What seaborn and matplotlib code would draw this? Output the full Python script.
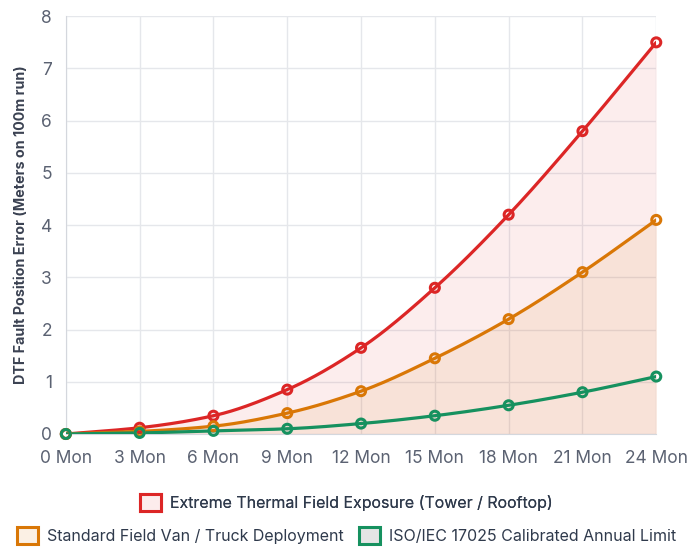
import numpy as np
import pandas as pd
import matplotlib
matplotlib.use('Agg')
import matplotlib.pyplot as plt
import seaborn as sns
from matplotlib.patches import Patch

# data
months = [0, 3, 6, 9, 12, 15, 18, 21, 24]
month_labels = [f'{m} Mon' for m in months]
extreme = [0.0, 0.12, 0.35, 0.85, 1.65, 2.8, 4.2, 5.8, 7.5]
standard = [0.0, 0.05, 0.15, 0.4, 0.82, 1.45, 2.2, 3.1, 4.1]
iso_limit = [0.0, 0.02, 0.06, 0.1, 0.2, 0.35, 0.55, 0.8, 1.1]

names = ['Extreme Thermal Field Exposure (Tower / Rooftop)',
         'Standard Field Van / Truck Deployment',
         'ISO/IEC 17025 Calibrated Annual Limit']
colors = ['#dc2626', '#d97706', '#16915f']

df = pd.DataFrame({'month': months * 3,
                   'value': extreme + standard + iso_limit,
                   'series': np.repeat(names, len(months))})


def smooth(x, y, n=30):
    # monotone cubic hermite path through the points (drawing only)
    x = np.asarray(x, float)
    y = np.asarray(y, float)
    h = np.diff(x)
    d = np.diff(y) / h
    m = np.zeros_like(y)
    m[0], m[-1] = d[0], d[-1]
    for i in range(1, len(y) - 1):
        if d[i - 1] * d[i] > 0:
            m[i] = 2 / (1 / d[i - 1] + 1 / d[i])
    xs, ys = [], []
    for i in range(len(h)):
        t = np.linspace(0, 1, n)
        h00 = 2 * t**3 - 3 * t**2 + 1
        h10 = t**3 - 2 * t**2 + t
        h01 = -2 * t**3 + 3 * t**2
        h11 = t**3 - t**2
        xs.append(x[i] + t * h[i])
        ys.append(h00 * y[i] + h10 * h[i] * m[i] + h01 * y[i + 1] + h11 * h[i] * m[i + 1])
    return np.concatenate(xs), np.concatenate(ys)


sns.set_style('white')
plt.rcParams['font.family'] = ['Inter', 'DejaVu Sans']

fig = plt.figure(figsize=(6.93, 5.6), dpi=100)
ax = fig.add_axes([0.095, 0.225, 0.852, 0.746])

fills = [(220/255, 38/255, 38/255, 0.08), (217/255, 119/255, 6/255, 0.09), None]
for name, col, fc in zip(names, colors, fills):
    sub = df[df['series'] == name]
    sx, sy = smooth(sub['month'], sub['value'])
    if fc is not None:
        ax.fill_between(sx, 0, sy, color=fc, linewidth=0, zorder=1)
    ax.plot(sx, sy, color=col, linewidth=2.3, zorder=3, solid_capstyle='round')

sns.scatterplot(data=df, x='month', y='value', hue='series', palette=colors,
                ax=ax, s=42, linewidth=2.2, legend=False, zorder=4, clip_on=False)
# open markers with coloured edges
coll = ax.collections[-1]
coll.set_edgecolors(coll.get_facecolors())
coll.set_facecolors('none')

ax.set_xlim(0, 24)
ax.set_ylim(0, 8)
ax.set_xticks(months)
ax.set_xticklabels(month_labels)
ax.set_yticks(range(0, 9))
ax.grid(True, color='#e5e7eb', linewidth=1)
ax.set_axisbelow(True)
for s in ['top', 'right']:
    ax.spines[s].set_visible(False)
for s in ['left', 'bottom']:
    ax.spines[s].set_color('#d4d7dd')
ax.tick_params(axis='both', colors='#e5e7eb', length=8, labelsize=12.5, labelcolor='#5b6272')
ax.tick_params(axis='y', length=0, pad=10)
ax.set_xlabel('')
ax.set_ylabel('DTF Fault Position Error (Meters on 100m run)', fontsize=10.3,
              fontweight='bold', color='#3b4252', labelpad=9)

box_fills = ['#fcecec', '#fbf0e4', '#e5e5e5']
handles = [Patch(facecolor=f, edgecolor=c, linewidth=2.2, label=n)
           for f, c, n in zip(box_fills, colors, names)]
leg1 = fig.legend(handles=handles[:1], loc='center', bbox_to_anchor=(0.5, 0.103),
                  frameon=False, fontsize=11.5, handlelength=1.3, handleheight=1.3,
                  handletextpad=0.55, labelcolor='#2f3a4c')
fig.legend(handles=handles[1:], loc='center', ncol=2, bbox_to_anchor=(0.5, 0.044),
           frameon=False, fontsize=11.5, handlelength=1.3, handleheight=1.3,
           handletextpad=0.55, columnspacing=1.0, labelcolor='#2f3a4c')
fig.add_artist(leg1)

fig.savefig('out.png', dpi=100)
